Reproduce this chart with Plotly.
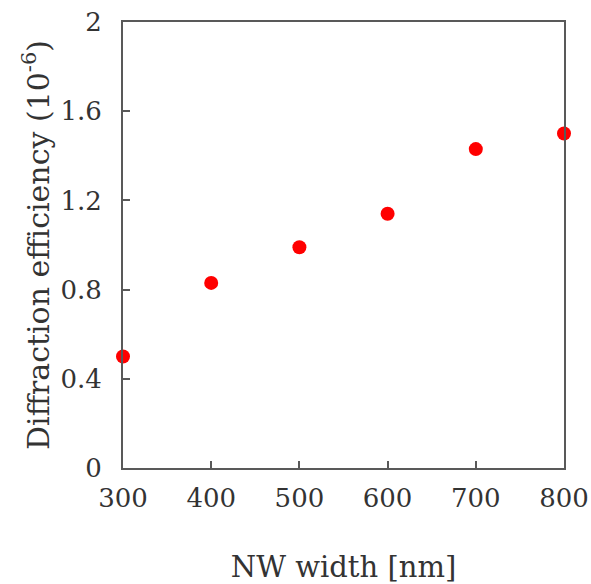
import plotly.graph_objects as go

widths = [300, 400, 500, 600, 700, 800]
efficiency = [0.50, 0.83, 0.99, 1.14, 1.43, 1.50]

x_ticks = [300, 400, 500, 600, 700, 800]
y_ticks = [0, 0.4, 0.8, 1.2, 1.6, 2]
y_ticktext = ["0", "0.4", "0.8", "1.2", "1.6", "2"]

font_family = "DejaVu Serif, Liberation Serif, serif"
axis_color = "#595959"
text_color = "#333333"

fig = go.Figure()
fig.add_trace(go.Scatter(
    x=widths, y=efficiency, mode="markers",
    marker=dict(color="#ff0000", size=14, line=dict(width=0)),
    cliponaxis=False, showlegend=False,
))

fig.update_layout(
    width=591, height=584,
    margin=dict(l=123, r=27, t=22, b=116),
    paper_bgcolor="white", plot_bgcolor="white",
    font=dict(family=font_family, color=text_color, size=26),
)
fig.update_xaxes(
    range=[300, 800], tickvals=x_ticks, ticks="inside", ticklen=7, tickwidth=2,
    tickcolor=axis_color, showline=True, linecolor=axis_color, linewidth=2,
    mirror=True, showgrid=False, zeroline=False, automargin=False,
    tickfont=dict(size=26, family=font_family, color=text_color),
    ticklabelstandoff=6,
    title=dict(text="NW width [nm]", font=dict(size=29, family=font_family, color=text_color), standoff=47),
)
fig.update_yaxes(
    range=[0, 2], tickvals=y_ticks, ticktext=y_ticktext, ticks="inside", ticklen=7, tickwidth=2,
    tickcolor=axis_color, showline=True, linecolor=axis_color, linewidth=2,
    mirror=True, showgrid=False, zeroline=False, automargin=False,
    tickfont=dict(size=26, family=font_family, color=text_color),
    ticklabelstandoff=14,
    title=dict(text="Diffraction efficiency (10<sup>-6</sup>)", font=dict(size=30, family=font_family, color=text_color), standoff=2),
)

fig.write_html("out.html", config={"displayModeBar": False},
               post_script="document.body.style.margin='0';")
